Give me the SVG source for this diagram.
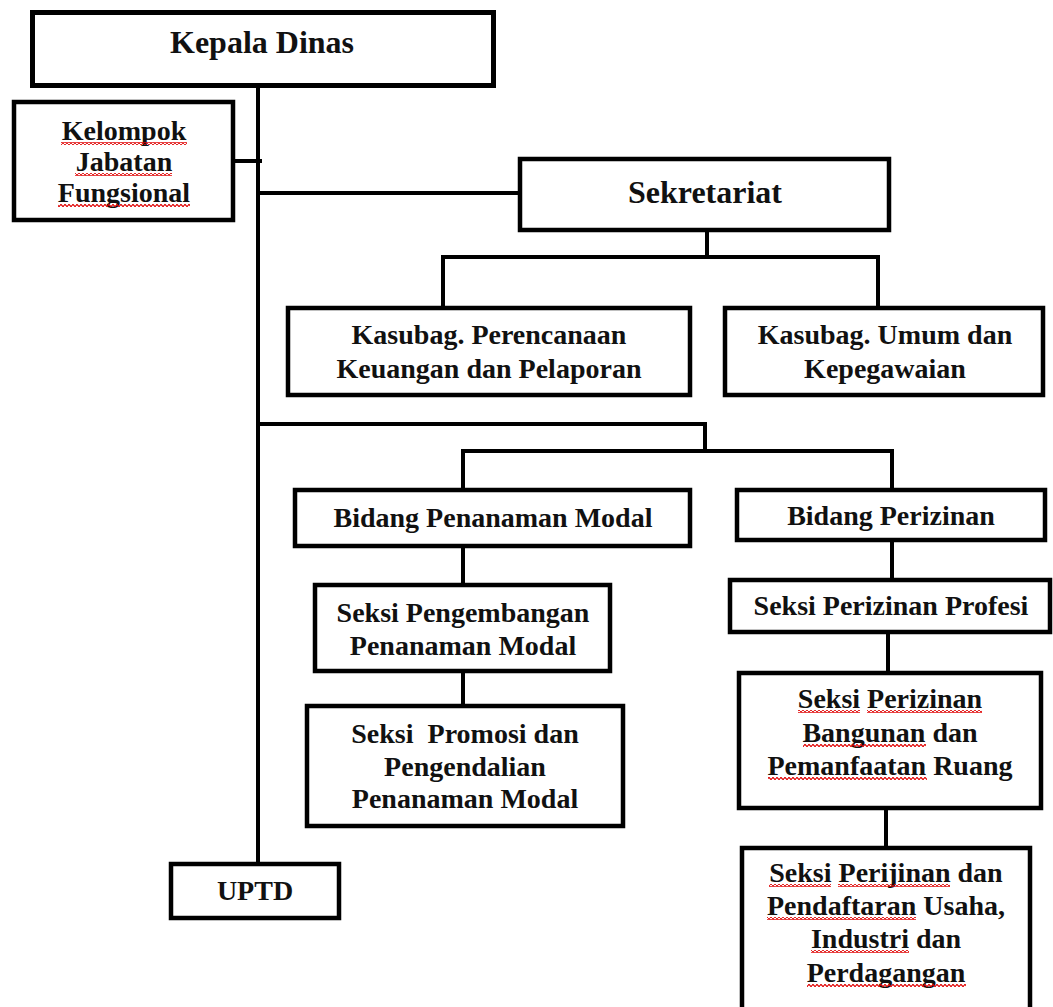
<svg xmlns="http://www.w3.org/2000/svg" width="1053" height="1007" viewBox="0 0 1053 1007">
<style>
.box{fill:#fff;stroke:#000;stroke-width:4.5}
.t{font-family:"Liberation Serif","Times New Roman",serif;font-weight:bold;font-size:28px;fill:#111;text-anchor:middle}
.h{font-size:32px}
.ln{stroke:#000;stroke-width:4;fill:none;stroke-linecap:square}
.sq{fill:url(#squig)}
</style>
<defs>
<pattern id="squig" patternUnits="userSpaceOnUse" width="4" height="3">
<path d="M0,1.5 L1,0.4 L3,2.6 L4,1.5" fill="none" stroke="#e00000" stroke-width="1.2"/>
</pattern>
</defs>
<rect width="1053" height="1007" fill="#fff"/>
<g id="connectors">
<path class="ln" d="M258,88 V862"/>
<path class="ln" d="M235,161 H260"/>
<path class="ln" d="M258,193 H518"/>
<path class="ln" d="M707,232 V257"/>
<path class="ln" d="M443,306 V257 H878 V306"/>
<path class="ln" d="M258,424 H705 V451"/>
<path class="ln" d="M463,488 V451 H892 V488"/>
<path class="ln" d="M463,548 V583"/>
<path class="ln" d="M463,673 V704"/>
<path class="ln" d="M892,542 V578"/>
<path class="ln" d="M888,634 V671"/>
<path class="ln" d="M886,810 V846"/>
</g>
<g id="kepala-dinas">
<rect class="box" x="32.5" y="12.5" width="461" height="73" style="stroke-width:5"/>
<text class="t h" x="262" y="53">Kepala Dinas</text>
</g>
<g id="kelompok-jabatan-fungsional">
<rect class="box" x="14" y="102" width="219" height="118"/>
<text class="t" x="124" y="140">Kelompok</text>
<text class="t" x="124" y="171">Jabatan</text>
<text class="t" x="124" y="202">Fungsional</text>
<rect class="sq" x="61" y="142" width="126" height="3"/>
<rect class="sq" x="75" y="173" width="97" height="3"/>
<rect class="sq" x="58" y="204" width="132" height="3"/>
</g>
<g id="sekretariat">
<rect class="box" x="520" y="159" width="369" height="71"/>
<text class="t h" x="705" y="203">Sekretariat</text>
</g>
<g id="kasubag-perencanaan">
<rect class="box" x="288" y="308" width="402" height="87"/>
<text class="t" x="489" y="344">Kasubag. Perencanaan</text>
<text class="t" x="489" y="378">Keuangan dan Pelaporan</text>
</g>
<g id="kasubag-umum">
<rect class="box" x="725" y="308" width="318" height="87"/>
<text class="t" x="885" y="344">Kasubag. Umum dan</text>
<text class="t" x="885" y="378">Kepegawaian</text>
</g>
<g id="bidang-penanaman-modal">
<rect class="box" x="295" y="490" width="395" height="56"/>
<text class="t" x="493" y="527">Bidang Penanaman Modal</text>
</g>
<g id="seksi-pengembangan">
<rect class="box" x="315" y="585" width="295" height="86"/>
<text class="t" x="463" y="622">Seksi Pengembangan</text>
<text class="t" x="463" y="655">Penanaman Modal</text>
</g>
<g id="seksi-promosi">
<rect class="box" x="307" y="706" width="316" height="120"/>
<text class="t" x="465" y="743">Seksi&#160; Promosi dan</text>
<text class="t" x="465" y="776">Pengendalian</text>
<text class="t" x="465" y="808">Penanaman Modal</text>
</g>
<g id="bidang-perizinan">
<rect class="box" x="737" y="490" width="308" height="50"/>
<text class="t" x="891" y="525">Bidang Perizinan</text>
</g>
<g id="seksi-perizinan-profesi">
<rect class="box" x="730" y="580" width="320" height="52"/>
<text class="t" x="891" y="615">Seksi Perizinan Profesi</text>
</g>
<g id="seksi-perizinan-bangunan">
<rect class="box" x="739" y="673" width="302" height="135"/>
<text class="t" x="890" y="708">Seksi Perizinan</text>
<text class="t" x="890" y="742">Bangunan dan</text>
<text class="t" x="890" y="775">Pemanfaatan Ruang</text>
<rect class="sq" x="798" y="710" width="62" height="3"/>
<rect class="sq" x="867" y="710" width="115" height="3"/>
<rect class="sq" x="803" y="744" width="123" height="3"/>
<rect class="sq" x="768" y="777" width="159" height="3"/>
</g>
<g id="seksi-perijinan-pendaftaran">
<rect class="box" x="742" y="848" width="288" height="170"/>
<text class="t" x="886" y="882">Seksi Perijinan dan</text>
<text class="t" x="886" y="915">Pendaftaran Usaha,</text>
<text class="t" x="886" y="948">Industri dan</text>
<text class="t" x="886" y="982">Perdagangan</text>
<rect class="sq" x="769" y="884" width="62" height="3"/>
<rect class="sq" x="838" y="884" width="112" height="3"/>
<rect class="sq" x="767" y="917" width="149" height="3"/>
<rect class="sq" x="811" y="950" width="98" height="3"/>
<rect class="sq" x="807" y="984" width="159" height="3"/>
</g>
<g id="uptd">
<rect class="box" x="171" y="864" width="168" height="54"/>
<text class="t" x="255" y="900">UPTD</text>
</g>
</svg>
